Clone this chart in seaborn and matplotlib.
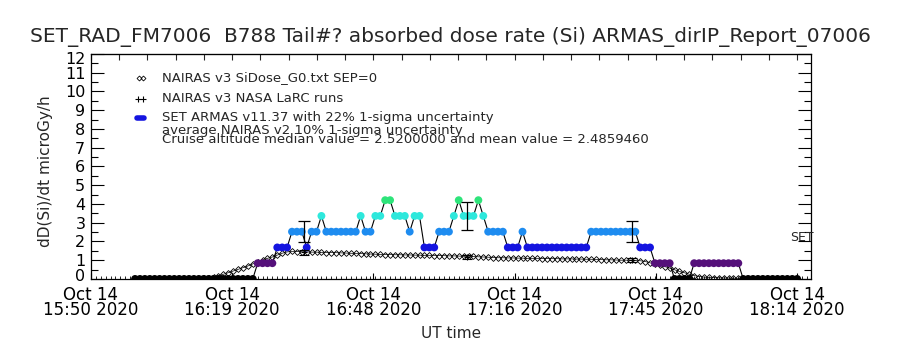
import numpy as np
import pandas as pd
import matplotlib
matplotlib.use('Agg')
import matplotlib.pyplot as plt
import matplotlib.transforms as mtransforms
import seaborn as sns
from matplotlib.ticker import MultipleLocator

# time axis: minutes after 15:50 UT, Oct 14 2020, one sample per minute
armas_start = 9
armas_levels = [0, 0.84, 1.68, 2.52, 1.68, 2.52, 3.36, 2.52, 3.36, 2.52, 3.36, 4.2,
                3.36, 2.52, 3.36, 1.68, 2.52, 3.36, 4.2, 3.36, 4.2, 3.36, 2.52, 1.68,
                2.52, 1.68, 2.52, 1.68, 0.84, 0, 0.84, 0]
armas_counts = [25, 4, 3, 3, 1, 2, 1, 7, 1, 2, 2, 2,
                3, 1, 2, 3, 3, 1, 1, 3, 1, 1, 4, 3,
                1, 13, 10, 3, 4, 4, 10, 12]

nairas_start = 9
nairas_dose = [0, 0, 0, 0, 0, 0, 0, 0, 0, 0, 0, 0,
               0.01, 0.02, 0.04, 0.07, 0.11, 0.17, 0.25, 0.33, 0.42, 0.51, 0.60, 0.69,
               0.80, 0.92, 1.02, 1.10, 1.17, 1.27, 1.37, 1.44,
               1.47, 1.46, 1.45, 1.44, 1.43, 1.43, 1.42, 1.41, 1.41, 1.40,
               1.39, 1.38, 1.37, 1.36, 1.35, 1.34, 1.33, 1.32, 1.31, 1.30,
               1.30, 1.29, 1.29, 1.28, 1.28, 1.27, 1.27, 1.26, 1.26, 1.25,
               1.25, 1.24, 1.23, 1.23, 1.22, 1.21, 1.20, 1.20, 1.18, 1.17,
               1.16, 1.14, 1.13, 1.13, 1.12, 1.12, 1.11, 1.11, 1.10, 1.10,
               1.10, 1.09, 1.09, 1.08, 1.08, 1.07, 1.07, 1.07, 1.06, 1.06,
               1.05, 1.05, 1.04, 1.03, 1.02, 1.02, 1.01, 1.00, 1.00, 1.00,
               0.99, 0.97,
               0.93, 0.86, 0.78, 0.72, 0.66, 0.58, 0.49, 0.40, 0.33, 0.25,
               0.18, 0.13, 0.10, 0.08, 0.07, 0.06, 0.05, 0.05, 0.04, 0.03,
               0.02, 0.02, 0.01, 0.01, 0.01, 0.01, 0, 0, 0, 0, 0, 0]

larc_time = [43.4, 76.7, 110.3]
larc_dose = [1.42, 1.16, 1.00]
armas_bar_dose = [2.52, 3.36, 2.52]

tick_pos = [0, 28.8, 57.6, 86.4, 115.2, 144]
tick_lab = ['Oct 14\n15:50 2020', 'Oct 14\n16:19 2020', 'Oct 14\n16:48 2020',
            'Oct 14\n17:16 2020', 'Oct 14\n17:45 2020', 'Oct 14\n18:14 2020']

level_colors = {0.0: 'black', 0.84: '#55107a', 1.68: '#1414e0',
                2.52: '#1e8cf0', 3.36: '#2ee8dc', 4.2: '#2ee47a'}

sns.set_style('ticks')
plt.rcParams['font.family'] = ['DejaVu Sans']

dose = np.repeat(armas_levels, armas_counts)
armas = pd.DataFrame({'t': armas_start + np.arange(len(dose)), 'dose': dose})
armas['level'] = armas['dose'].map(lambda v: f'{v:.2f}')
palette = {f'{k:.2f}': c for k, c in level_colors.items()}

nairas = pd.DataFrame({'t': nairas_start + np.arange(len(nairas_dose)), 'dose': nairas_dose})

fig = plt.figure(figsize=(9, 3.5), dpi=100)
ax = fig.add_axes([0.101, 0.203, 0.8, 0.643])

# NAIRAS model curve (open diamonds)
sns.lineplot(data=nairas, x='t', y='dose', color='black', lw=0.5, marker='D',
             markersize=3, markerfacecolor='none', markeredgecolor='black',
             markeredgewidth=0.6, ax=ax, zorder=2)

# ARMAS measurements
sns.lineplot(data=armas, x='t', y='dose', color='black', lw=0.8, ax=ax, zorder=3)
sns.scatterplot(data=armas, x='t', y='dose', hue='level', palette=palette, s=32,
                linewidth=0, legend=False, ax=ax, zorder=4)

# uncertainties
ax.errorbar(larc_time, armas_bar_dose, yerr=0.22 * np.array(armas_bar_dose), fmt='none',
            ecolor='black', elinewidth=0.9, capsize=4, capthick=0.9, zorder=5)
ax.errorbar(larc_time, larc_dose, yerr=0.10 * np.array(larc_dose), fmt='+', color='black',
            ms=5, mew=0.8, elinewidth=0.8, capsize=3.5, capthick=0.8, zorder=5)

ax.set_xlim(0, 146.8)
ax.set_ylim(0, 12)
ax.set_xticks(tick_pos, tick_lab)
ax.xaxis.set_minor_locator(MultipleLocator(1))
ax.set_yticks(range(13))
ax.yaxis.set_minor_locator(MultipleLocator(0.5))
ax.tick_params(which='both', direction='in', right=True, top=False, colors='black')
ax.tick_params(axis='y', which='major', length=9.5, width=0.8, pad=4, labelsize=11.5)
ax.tick_params(axis='y', which='minor', length=5, width=0.8)
ax.tick_params(axis='x', which='major', length=4.5, width=0.8, pad=5, labelsize=12)
ax.tick_params(axis='x', which='minor', length=2, width=0.6)
for lab in ax.get_xticklabels():
    lab.set_linespacing(0.8)
for sp in ax.spines.values():
    sp.set_linewidth(0.9)
    sp.set_color('black')

# nudge end labels inward like the original plot
ylabs = ax.get_yticklabels()
ylabs[0].set_transform(ylabs[0].get_transform() + mtransforms.ScaledTranslation(0, 4 / 100, fig.dpi_scale_trans))
ylabs[-1].set_transform(ylabs[-1].get_transform() + mtransforms.ScaledTranslation(0, -4 / 100, fig.dpi_scale_trans))

top = ax.secondary_xaxis('top')
top.xaxis.set_major_locator(MultipleLocator(5.76))
top.tick_params(direction='in', length=4, width=0.8, labeltop=False)

ax.set_xlabel('UT time', fontsize=11)
ax.xaxis.set_label_coords(0.5, -0.21)
ax.set_ylabel('dD(Si)/dt microGy/h', fontsize=11)
ax.yaxis.set_label_coords(-0.053, 0.48)

fig.text(0.5, 0.894, 'SET_RAD_FM7006  B788 Tail#? absorbed dose rate (Si) ARMAS_dirIP_Report_07006',
         ha='center', va='center', fontsize=14.5)

# hand-made legend
ax.plot([0.067, 0.072], [0.893, 0.893], ls='none', marker='D', ms=2.5, mfc='none', mec='black',
        mew=0.6, transform=ax.transAxes, clip_on=False)
ax.plot([0.066, 0.072], [0.800, 0.800], ls='none', marker='+', ms=5, mew=0.8, color='black',
        transform=ax.transAxes, clip_on=False)
ax.plot([0.064, 0.074], [0.716, 0.716], color='#1414e0', lw=4, solid_capstyle='round',
        transform=ax.transAxes, clip_on=False)
legend_lines = [('NAIRAS v3 SiDose_G0.txt SEP=0', 0.893),
                ('NAIRAS v3 NASA LaRC runs', 0.800),
                ('SET ARMAS v11.37 with 22% 1-sigma uncertainty', 0.716),
                ('average NAIRAS v2 10% 1-sigma uncertainty', 0.658),
                ('Cruise altitude median value = 2.5200000 and mean value = 2.4859460', 0.618)]
for txt, yy in legend_lines:
    ax.text(0.099, yy, txt, transform=ax.transAxes, fontsize=9.5, va='center')

ax.text(142.5, 2.2, 'SET', fontsize=9, va='center', clip_on=False)

fig.savefig('out.png', dpi=100)
